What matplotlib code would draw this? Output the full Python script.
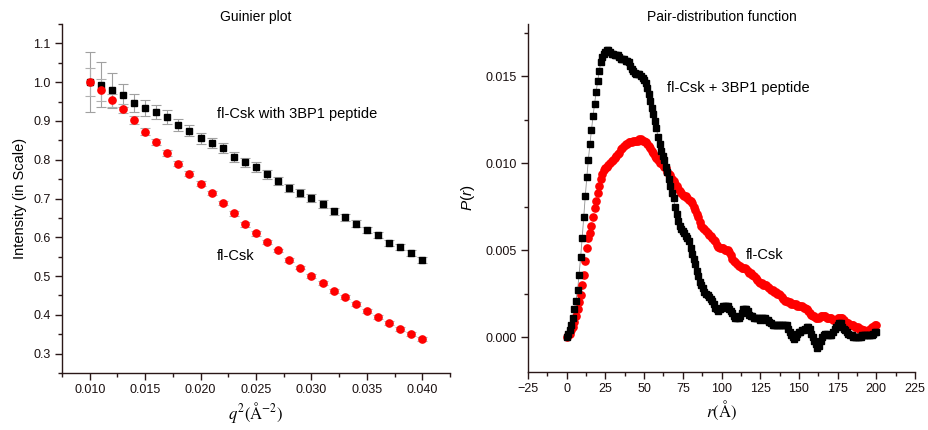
import numpy as np
import matplotlib
matplotlib.use("Agg")
import matplotlib.pyplot as plt
from matplotlib.ticker import MultipleLocator, FormatStrFormatter

plt.rcParams['font.family'] = ['Liberation Sans', 'DejaVu Sans']
plt.rcParams['mathtext.fontset'] = 'custom'
plt.rcParams['mathtext.rm'] = 'Liberation Sans'
plt.rcParams['mathtext.it'] = 'Liberation Sans:italic'

# ---------------- Guinier plot data ----------------
q2 = [0.010, 0.011, 0.012, 0.013, 0.014, 0.015, 0.016, 0.017, 0.018, 0.019,
      0.020, 0.021, 0.022, 0.023, 0.024, 0.025, 0.026, 0.027, 0.028, 0.029,
      0.030, 0.031, 0.032, 0.033, 0.034, 0.035, 0.036, 0.037, 0.038, 0.039, 0.040]
complex_I = [1.000, 0.993, 0.979, 0.966, 0.946, 0.934, 0.923, 0.910, 0.890, 0.875,
             0.855, 0.842, 0.830, 0.807, 0.793, 0.781, 0.762, 0.745, 0.727, 0.715,
             0.701, 0.685, 0.667, 0.652, 0.635, 0.618, 0.605, 0.585, 0.575, 0.559, 0.542]
complex_err = [0.078, 0.058, 0.045, 0.030, 0.024, 0.021, 0.019, 0.017, 0.016, 0.015,
               0.014, 0.013, 0.013, 0.013, 0.012, 0.012, 0.011, 0.011, 0.010, 0.010,
               0.010, 0.010, 0.009, 0.009, 0.009, 0.008, 0.008, 0.008, 0.008, 0.008, 0.008]
apo_I = [1.000, 0.979, 0.953, 0.932, 0.903, 0.872, 0.846, 0.818, 0.790, 0.764,
         0.738, 0.714, 0.688, 0.662, 0.633, 0.610, 0.588, 0.566, 0.542, 0.522,
         0.501, 0.482, 0.462, 0.445, 0.429, 0.411, 0.394, 0.378, 0.364, 0.351, 0.337]
apo_err = [0.036, 0.028, 0.016, 0.012, 0.010, 0.009, 0.008, 0.008, 0.007, 0.007,
           0.007, 0.006, 0.006, 0.006, 0.006, 0.006, 0.005, 0.005, 0.005, 0.005,
           0.005, 0.005, 0.005, 0.005, 0.005, 0.005, 0.005, 0.005, 0.005, 0.005, 0.005]

# ---------------- P(r) data ----------------
r_vals = list(range(0, 201))
complex_pr = [
    0.0000, 0.0002, 0.0004, 0.0007, 0.0011, 0.0016, 0.0021, 0.0027, 0.0036, 0.0046,
    0.0057, 0.0069, 0.0081, 0.0092, 0.0102, 0.0111, 0.0119, 0.0127, 0.0134, 0.0141,
    0.0147, 0.0153, 0.0158, 0.0161, 0.0163, 0.0164, 0.0165, 0.0165, 0.0164, 0.0163,
    0.0163, 0.0162, 0.0162, 0.0162, 0.0161, 0.0160, 0.0160, 0.0160, 0.0159, 0.0159,
    0.0158, 0.0156, 0.0154, 0.0153, 0.0152, 0.0151, 0.0151, 0.0151, 0.0150, 0.0149,
    0.0148, 0.0146, 0.0143, 0.0140, 0.0136, 0.0132, 0.0128, 0.0124, 0.0120, 0.0115,
    0.0111, 0.0107, 0.0104, 0.0102, 0.0098, 0.0095, 0.0091, 0.0087, 0.0083, 0.0080,
    0.0075, 0.0071, 0.0067, 0.0064, 0.0062, 0.0061, 0.0060, 0.0058, 0.0057, 0.0055,
    0.0051, 0.0048, 0.0045, 0.0042, 0.0038, 0.0035, 0.0032, 0.0030, 0.0028, 0.0026,
    0.0025, 0.0024, 0.0023, 0.0022, 0.0021, 0.0019, 0.0017, 0.0016, 0.0015, 0.0016,
    0.0017, 0.0018, 0.0018, 0.0018, 0.0018, 0.0016, 0.0015, 0.0014, 0.0012, 0.0011,
    0.0011, 0.0011, 0.0012, 0.0014, 0.0016, 0.0016, 0.0016, 0.0015, 0.0013, 0.0012,
    0.0012, 0.0011, 0.0011, 0.0011, 0.0011, 0.0010, 0.0011, 0.0011, 0.0011, 0.0010,
    0.0010, 0.0009, 0.0008, 0.0007, 0.0007, 0.0007, 0.0007, 0.0007, 0.0007, 0.0007,
    0.0007, 0.0007, 0.0007, 0.0005, 0.0003, 0.0001, 0.0000, -0.0001, 0.0000, 0.0002,
    0.0003, 0.0003, 0.0004, 0.0004, 0.0005, 0.0006, 0.0006, 0.0005, 0.0002, 0.0000,
    -0.0002, -0.0004, -0.0006, -0.0005, -0.0002, 0.0000, 0.0001, 0.0002, 0.0002, 0.0001,
    0.0001, 0.0001, 0.0003, 0.0005, 0.0006, 0.0007, 0.0008, 0.0008, 0.0006, 0.0005,
    0.0004, 0.0003, 0.0002, 0.0001, 0.0001, 0.0000, 0.0000, 0.0000, 0.0000, 0.0000,
    0.0000, 0.0001, 0.0001, 0.0001, 0.0001, 0.0001, 0.0001, 0.0001, 0.0002, 0.0003,
    0.0003]
apo_pr = [
    0.0000, 0.0001, 0.0002, 0.0004, 0.0006, 0.0009, 0.0012, 0.0016, 0.0020, 0.0024,
    0.0030, 0.0036, 0.0044, 0.0051, 0.0057, 0.0060, 0.0064, 0.0069, 0.0074, 0.0078,
    0.0083, 0.0087, 0.0091, 0.0094, 0.0096, 0.0097, 0.0098, 0.0099, 0.0100, 0.0101,
    0.0102, 0.0103, 0.0104, 0.0105, 0.0106, 0.0108, 0.0109, 0.0110, 0.0111, 0.0111,
    0.0112, 0.0112, 0.0112, 0.0113, 0.0113, 0.0113, 0.0113, 0.0114, 0.0114, 0.0113,
    0.0113, 0.0112, 0.0111, 0.0110, 0.0109, 0.0107, 0.0106, 0.0104, 0.0103, 0.0102,
    0.0100, 0.0100, 0.0099, 0.0098, 0.0097, 0.0095, 0.0094, 0.0093, 0.0091, 0.0090,
    0.0088, 0.0087, 0.0085, 0.0084, 0.0083, 0.0082, 0.0081, 0.0081, 0.0080, 0.0079,
    0.0078, 0.0077, 0.0075, 0.0073, 0.0071, 0.0069, 0.0066, 0.0064, 0.0063, 0.0062,
    0.0061, 0.0060, 0.0059, 0.0058, 0.0057, 0.0056, 0.0055, 0.0053, 0.0052, 0.0051,
    0.0051, 0.0051, 0.0050, 0.0050, 0.0050, 0.0049, 0.0047, 0.0045, 0.0044, 0.0043,
    0.0042, 0.0041, 0.0041, 0.0040, 0.0040, 0.0040, 0.0039, 0.0038, 0.0037, 0.0037,
    0.0036, 0.0035, 0.0034, 0.0033, 0.0032, 0.0031, 0.0031, 0.0030, 0.0030, 0.0030,
    0.0029, 0.0028, 0.0027, 0.0027, 0.0026, 0.0026, 0.0025, 0.0025, 0.0024, 0.0023,
    0.0022, 0.0021, 0.0021, 0.0020, 0.0020, 0.0019, 0.0019, 0.0019, 0.0019, 0.0018,
    0.0018, 0.0018, 0.0018, 0.0017, 0.0017, 0.0016, 0.0015, 0.0014, 0.0013, 0.0012,
    0.0012, 0.0011, 0.0011, 0.0011, 0.0012, 0.0012, 0.0012, 0.0012, 0.0011, 0.0011,
    0.0011, 0.0011, 0.0010, 0.0010, 0.0010, 0.0011, 0.0011, 0.0011, 0.0011, 0.0010,
    0.0009, 0.0008, 0.0008, 0.0007, 0.0007, 0.0007, 0.0006, 0.0006, 0.0006, 0.0005,
    0.0005, 0.0004, 0.0004, 0.0003, 0.0003, 0.0004, 0.0005, 0.0006, 0.0006, 0.0007,
    0.0007]

title_left = "Guinier plot"
title_right = "Pair-distribution function"
label_complex_left = "fl-Csk with 3BP1 peptide"
label_apo_left = "fl-Csk"
label_complex_right = "fl-Csk + 3BP1 peptide"
label_apo_right = "fl-Csk"

spine_col = '#2a1818'
W, H = 929, 430
fig = plt.figure(figsize=(W / 100, H / 100), dpi=100)

ax1 = fig.add_axes([62 / W, (H - 373) / H, 388 / W, (373 - 24) / H])
ax2 = fig.add_axes([528 / W, (H - 372) / H, 387 / W, (372 - 24) / H])

for ax in (ax1, ax2):
    for s in ('top', 'right'):
        ax.spines[s].set_visible(False)
    for s in ('left', 'bottom'):
        ax.spines[s].set_color(spine_col)
        ax.spines[s].set_linewidth(1.0)
    ax.tick_params(which='major', direction='out', length=5, width=1, color=spine_col,
                   labelsize=9, labelcolor='#1a1010', pad=3)
    ax.tick_params(which='minor', direction='out', length=3, width=1, color=spine_col)

# ---- left ----
ax1.errorbar(q2, complex_I, yerr=complex_err, fmt='none', ecolor='#a0a0a0',
             elinewidth=0.8, capsize=3.5, capthick=0.8, zorder=1)
ax1.errorbar(q2, apo_I, yerr=apo_err, fmt='none', ecolor='#b0b0b0',
             elinewidth=0.8, capsize=3.5, capthick=0.8, zorder=1)
ax1.plot(q2, complex_I, 's', color='black', ms=5, zorder=3)
ax1.plot(q2, apo_I, 'o', color='#ff0000', ms=5.2, mec='#ff0000', zorder=4)
ax1.set_xlim(0.0075, 0.0425)
ax1.set_ylim(0.25, 1.15)
ax1.xaxis.set_major_locator(MultipleLocator(0.005))
ax1.xaxis.set_minor_locator(MultipleLocator(0.0025))
ax1.xaxis.set_major_formatter(FormatStrFormatter('%.3f'))
ax1.yaxis.set_major_locator(MultipleLocator(0.1))
ax1.yaxis.set_minor_locator(MultipleLocator(0.05))
ax1.yaxis.set_major_formatter(FormatStrFormatter('%.1f'))
ax1.set_title(title_left, fontsize=10, pad=0)
ax1.set_ylabel("Intensity (in Scale)", fontsize=10.5, labelpad=5)
ax1.set_xlabel(r'$q^{2}\mathrm{(\AA^{-2})}$', fontsize=12, labelpad=3, math_fontfamily='stix')
ax1.text(0.0215, 0.918, label_complex_left, fontsize=10.5, va='center', ha='left')
ax1.text(0.0215, 0.552, label_apo_left, fontsize=10.5, va='center', ha='left')

# ---- right ----
ax2.plot(r_vals, complex_pr, '-', color='#909090', lw=0.6, zorder=1)
ax2.plot(r_vals, apo_pr, 'o', color='#ff0000', mec='#ff0000', ms=5.2, zorder=2)
ax2.plot(r_vals, complex_pr, 's', color='black', ms=4.5, zorder=3)
ax2.set_xlim(-25, 225)
ax2.set_ylim(-0.002, 0.018)
ax2.xaxis.set_major_locator(MultipleLocator(25))
ax2.xaxis.set_minor_locator(MultipleLocator(12.5))
ax2.yaxis.set_major_locator(MultipleLocator(0.005))
ax2.yaxis.set_minor_locator(MultipleLocator(0.0025))
ax2.yaxis.set_major_formatter(FormatStrFormatter('%.3f'))
ax2.set_title(title_right, fontsize=10, pad=0)
ax2.set_ylabel(r'$P$($r$)', fontsize=11, labelpad=6)
ax2.set_xlabel(r'$r\mathrm{(\AA)}$', fontsize=12, labelpad=3, math_fontfamily='stix')
ax2.text(65, 0.0143, label_complex_right, fontsize=10.5, va='center', ha='left')
ax2.text(116, 0.0047, label_apo_right, fontsize=10.5, va='center', ha='left')

fig.savefig("out.png", dpi=100)
